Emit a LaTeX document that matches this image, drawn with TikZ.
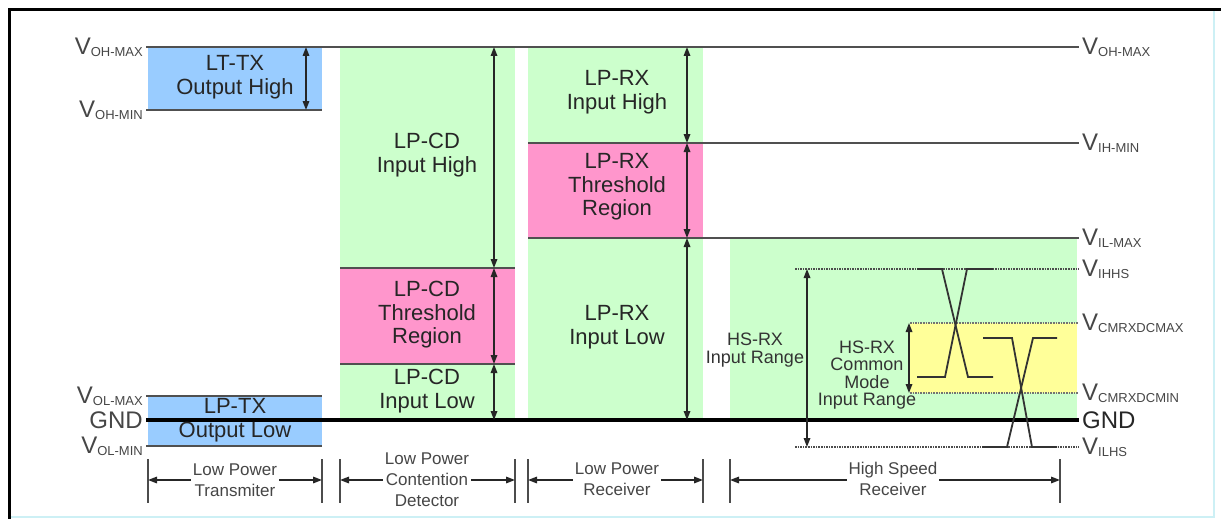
\documentclass[tikz,border=0pt]{standalone}
\usepackage{fontspec}
\setmainfont{Liberation Sans}
\usetikzlibrary{arrows.meta,positioning}
\definecolor{txblue}{RGB}{153,204,255}
\definecolor{rxgreen}{RGB}{204,255,204}
\definecolor{thpink}{RGB}{255,150,204}
\definecolor{cmyellow}{RGB}{255,255,153}
\definecolor{lvlgray}{RGB}{80,80,80}
\definecolor{labgray}{RGB}{70,70,70}
\definecolor{edgecyan}{RGB}{205,240,245}
\newcommand{\vlev}[1]{V\raisebox{-0.15ex}{\fontsize{13}{13}\selectfont #1}}

\begin{document}
\begin{tikzpicture}[x=1pt,y=-1pt,
  region/.style={font=\fontsize{22}{23.5}\selectfont,align=center,text=black!85},
  hsregion/.style={font=\fontsize{18}{17.5}\selectfont,align=center,text=black!80},
  dimtext/.style={font=\fontsize{17}{21}\selectfont,align=center,fill=white,inner sep=1.5pt,text=labgray},
  vlab/.style={font=\fontsize{24}{24}\selectfont,text=labgray,inner sep=3pt},
  lvl/.style={lvlgray,line width=2pt},
  gndline/.style={black,line width=3.5pt},
  hslvl/.style={black!70,densely dotted,line width=1.6pt},
  span/.style={black!85,line width=1.6pt,{Triangle[length=9pt,width=6.5pt]}-{Triangle[length=9pt,width=6.5pt]}},
  tick/.style={black!70,line width=2pt},
  wave/.style={black!80,line width=1.8pt}]
  \useasboundingbox (0,0) rectangle (1221,519);

  % frame
  \draw[edgecyan,line width=1.5pt] (1214,10) -- (1214,517) -- (9,517);
  \draw[line width=3pt] (9,519) -- (9,10) -- (1221,10);

  % coloured regions
  \fill[rxgreen] (340,47) rectangle (515,420);
  \fill[rxgreen] (528,47) rectangle (703,420);
  \fill[rxgreen] (730,238) rectangle (1077,420);
  \fill[thpink] (340,268) rectangle (515,364);
  \fill[thpink] (528,143) rectangle (703,238);
  \fill[cmyellow] (910,323) rectangle (1077,393);
  \fill[txblue] (148,47) rectangle (322,110);
  \fill[txblue] (148,396) rectangle (322,446);

  % level labels, left
  \node[vlab,anchor=east] (lohmax) at (146,47) {\vlev{OH-MAX}};
  \node[vlab,anchor=east] (lohmin) at (146,110) {\vlev{OH-MIN}};
  \node[vlab,anchor=east] (lolmax) at (146,396) {\vlev{OL-MAX}};
  \node[vlab,anchor=east] (lgnd) at (146,420) {GND};
  \node[vlab,anchor=east] (lolmin) at (146,446) {\vlev{OL-MIN}};

  % level labels, right
  \foreach \nm/\yy/\sub in {ohmax/47/OH-MAX,ihmin/143/IH-MIN,ilmax/238/IL-MAX,
      ihhs/269/IHHS,cmmax/323/CMRXDCMAX,cmmin/393/CMRXDCMIN,ilhs/447/ILHS}
    \node[vlab,anchor=west] (r\nm) at (1079,\yy) {\vlev{\sub}};
  \node[vlab,anchor=west,text=black!85] (rgnd) at (1079,420) {GND};

  % free ends of the level lines
  \coordinate (txhi) at (322,110);
  \coordinate (txlo) at (322,396);
  \coordinate (txmin) at (322,446);
  \coordinate (rxhiL) at (528,143);
  \coordinate (rxloL) at (528,238);
  \coordinate (cdthA) at (340,268);
  \coordinate (cdthAr) at (515,268);
  \coordinate (cdthB) at (340,364);
  \coordinate (cdthBr) at (515,364);
  \coordinate (hstopL) at (795,269);
  \coordinate (hsbotL) at (795,447);
  \coordinate (cmtopL) at (910,323);
  \coordinate (cmbotL) at (910,393);

  % level lines
  \draw[lvl] (lohmax.east) -- (rohmax.west);
  \draw[lvl] (lohmin.east) -- (txhi);
  \draw[lvl] (lolmax.east) -- (txlo);
  \draw[lvl] (lolmin.east) -- (txmin);
  \draw[lvl] (rxhiL) -- (rihmin.west);
  \draw[lvl] (rxloL) -- (rilmax.west);
  \draw[lvl] (cdthA) -- (cdthAr);
  \draw[lvl] (cdthB) -- (cdthBr);
  \draw[hslvl] (hstopL) -- (rihhs.west);
  \draw[hslvl] (hsbotL) -- (rilhs.west);
  \draw[hslvl,black!55] (cmtopL) -- (rcmmax.west);
  \draw[hslvl,black!55] (cmbotL) -- (rcmmin.west);
  \draw[gndline] (lgnd.east) -- (rgnd.west);

  % region texts
  \node[region] (txhigh) at (235,77) {LT-TX\\Output High};
  \node[region] (txlow) at (235,420) {LP-TX\\Output Low};
  \node[region] (cdhigh) at (427,155) {LP-CD\\Input High};
  \node[region] (cdth) at (427,315) {LP-CD\\Threshold\\Region};
  \node[region] (cdlow) at (427,391) {LP-CD\\Input Low};
  \node[region] (rxhigh) at (617,92) {LP-RX\\Input High};
  \node[region] (rxth) at (617,187) {LP-RX\\Threshold\\Region};
  \node[region] (rxlow) at (617,327) {LP-RX\\Input Low};
  \node[hsregion] (hsrange) at (755,350) {HS-RX\\Input Range};
  \node[hsregion] (hscm) at (867,375) {HS-RX\\Common\\Mode\\Input Range};

  % range arrows
  \coordinate (txA) at (306,47);
  \coordinate (txB) at (306,110);
  \coordinate (cdA) at (494,47);
  \coordinate (cdB) at (494,268);
  \coordinate (cdC) at (494,364);
  \coordinate (cdD) at (494,420);
  \coordinate (rxA) at (687,47);
  \coordinate (rxB) at (687,143);
  \coordinate (rxC) at (687,238);
  \coordinate (rxD) at (687,420);
  \coordinate (hsA) at (807,269);
  \coordinate (hsB) at (807,447);
  \coordinate (cmA) at (909,323);
  \coordinate (cmB) at (909,393);
  \draw[span] (txA) -- (txB);
  \draw[span] (cdA) -- (cdB);
  \draw[span] (cdB) -- (cdC);
  \draw[span] (cdC) -- (cdD);
  \draw[span] (rxA) -- (rxB);
  \draw[span] (rxB) -- (rxC);
  \draw[span] (rxC) -- (rxD);
  \draw[span] (hsA) -- (hsB);
  \draw[span] (cmA) -- (cmB);

  % differential waveforms
  \draw[wave] (917,269) -- (942,269) -- (968,377) -- (993,377);
  \draw[wave] (917,377) -- (945,377) -- (967,269) -- (993,269);
  \draw[wave] (983,338) -- (1012,338) -- (1032,447) -- (1057,447);
  \draw[wave] (982,447) -- (1007,447) -- (1033,338) -- (1057,338);

  % block widths
  \foreach \nm/\xa/\xb in {tx/148/322,cd/340/515,rx/528/703,hs/730/1060}{
    \coordinate (\nm L) at (\xa,480);
    \coordinate (\nm R) at (\xb,480);
    \draw[tick] (\xa,459) -- (\xa,503);
    \draw[tick] (\xb,459) -- (\xb,503);
    \draw[span] (\nm L) -- (\nm R);
  }
  \node[dimtext] (txname) at (235,480) {Low Power\\Transmiter};
  \node[dimtext] (cdname) at (427,480) {Low Power\\Contention\\Detector};
  \node[dimtext] (rxname) at (617,479) {Low Power\\Receiver};
  \node[dimtext] (hsname) at (893,479) {High Speed\\Receiver};
\end{tikzpicture}
\end{document}
